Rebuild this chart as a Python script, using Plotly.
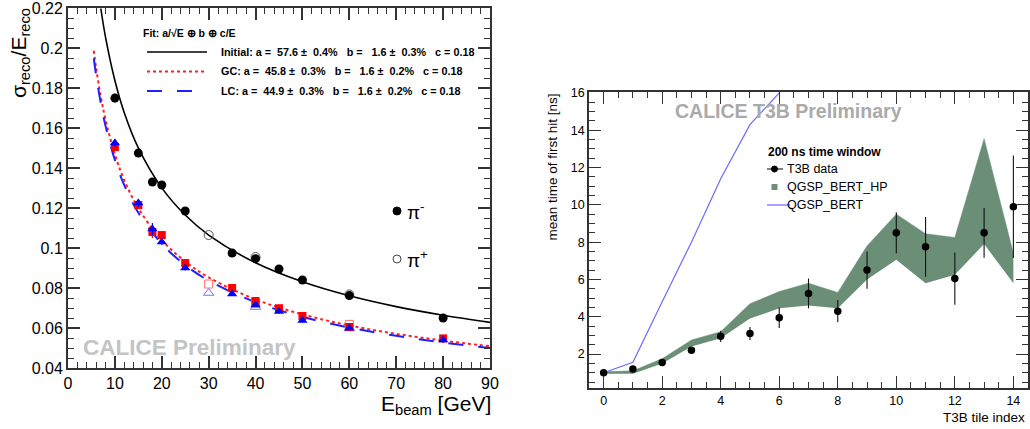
import plotly.graph_objects as go

W, H = 1030, 429
FONT = "Liberation Sans, Arial, sans-serif"

# ---------------- Left panel data ----------------
E_pim = [10, 15, 18, 20, 25, 35, 40, 45, 50, 60, 80]
init_pim = [0.175, 0.1475, 0.133, 0.1315, 0.1185, 0.0975, 0.0947, 0.0895, 0.084, 0.0762, 0.065]
init_pim_err = [0.0022, 0.002, 0.002, 0.0015, 0.0012, 0.001, 0.001, 0.001, 0.001, 0.001, 0.001]
gc_pim = [0.1505, 0.1215, 0.108, 0.1065, 0.0925, 0.080, 0.0735, 0.0699, 0.066, 0.0605, 0.0548]
gc_pim_err = [0.002, 0.002, 0.003, 0.0015, 0.0012, 0.001, 0.001, 0.001, 0.001, 0.001, 0.0015]
lc_pim = [0.1525, 0.1225, 0.1095, 0.103, 0.090, 0.077, 0.0715, 0.0682, 0.0637, 0.060, 0.054]
lc_pim_err = [0.002, 0.002, 0.003, 0.0015, 0.0012, 0.001, 0.001, 0.001, 0.001, 0.001, 0.0015]

E_pip = [30, 40, 60]
init_pip = [0.1065, 0.0955, 0.0768]
gc_pip = [0.082, 0.0725, 0.0618]
lc_pip = [0.0775, 0.0705, 0.0598]

# fit curves
E_fit_init = [7, 8, 10, 12, 15, 20, 25, 30, 40, 50, 60, 70, 80, 90]
fit_init = [0.2198, 0.2055, 0.1838, 0.1677, 0.1501, 0.1301, 0.1165, 0.1065, 0.0926,
            0.0831, 0.0761, 0.0707, 0.0664, 0.0628]
E_fit = [5.5, 6, 7, 8, 10, 12, 15, 20, 25, 30, 40, 50, 60, 70, 80, 90]
fit_gc = [0.1987, 0.1900, 0.1757, 0.1643, 0.1468, 0.1340, 0.1199, 0.1040, 0.0933,
          0.0853, 0.0743, 0.0668, 0.0613, 0.0571, 0.0537, 0.0509]
fit_lc = [0.1949, 0.1864, 0.1724, 0.1611, 0.1440, 0.1315, 0.1176, 0.1021, 0.0915,
          0.0837, 0.0729, 0.0656, 0.0602, 0.0561, 0.0527, 0.0500]

legend_left = [
    "Initial: a =  57.6 ±  0.4%   b =   1.6 ±  0.3%   c = 0.18",
    "GC: a =  45.8 ±  0.3%   b =   1.6 ±  0.2%   c = 0.18",
    "LC: a =  44.9 ±  0.3%   b =   1.6 ±  0.2%   c = 0.18",
]

# ---------------- Right panel data ----------------
tile = list(range(15))
t3b = [1.0, 1.2, 1.55, 2.2, 2.95, 3.1, 3.95, 5.25, 4.3, 6.5, 8.5, 7.75, 6.05, 8.5, 9.9]
t3b_err = [0.08, 0.1, 0.12, 0.12, 0.3, 0.35, 0.55, 0.8, 0.6, 1.0, 1.1, 1.6, 1.4, 1.33, 2.75]
hp_low = [0.95, 0.95, 1.5, 2.4, 2.85, 3.9, 4.45, 4.6, 4.45, 6.0, 7.05, 5.8, 6.25, 7.9, 5.8]
hp_high = [1.05, 1.1, 1.75, 2.75, 3.2, 4.7, 5.35, 5.8, 5.3, 7.8, 9.5, 8.45, 8.25, 13.55, 7.4]
bert_x = [0, 1, 2, 3, 4, 5, 6]
bert = [1.0, 1.56, 4.8, 8.0, 11.4, 14.3, 16.0]

fig = go.Figure()

# ---- left traces ----
fig.add_trace(go.Scatter(x=E_fit_init, y=fit_init, mode="lines", line=dict(color="black", width=1.6, shape="spline"),
                         xaxis="x", yaxis="y", showlegend=False))
fig.add_trace(go.Scatter(x=E_fit, y=fit_gc, mode="lines", line=dict(color="#ff2020", width=2, dash="dot", shape="spline"),
                         xaxis="x", yaxis="y", showlegend=False))
fig.add_trace(go.Scatter(x=E_fit, y=fit_lc, mode="lines", line=dict(color="#2020ff", width=2, dash="longdash", shape="spline"),
                         xaxis="x", yaxis="y", showlegend=False))

fig.add_trace(go.Scatter(x=E_pip, y=init_pip, mode="markers",
                         marker=dict(symbol="circle-open", size=9, color="#555555", line=dict(width=1)),
                         xaxis="x", yaxis="y", showlegend=False))
fig.add_trace(go.Scatter(x=E_pip, y=gc_pip, mode="markers",
                         marker=dict(symbol="square-open", size=8, color="#ff7070", line=dict(width=1)),
                         xaxis="x", yaxis="y", showlegend=False))
fig.add_trace(go.Scatter(x=E_pip, y=lc_pip, mode="markers",
                         marker=dict(symbol="triangle-up-open", size=9, color="#7070ff", line=dict(width=1)),
                         xaxis="x", yaxis="y", showlegend=False))

fig.add_trace(go.Scatter(x=E_pim, y=init_pim, mode="markers",
                         error_y=dict(type="data", array=init_pim_err, width=0, thickness=1.2, color="black"),
                         marker=dict(symbol="circle", size=9, color="black"),
                         xaxis="x", yaxis="y", showlegend=False))
fig.add_trace(go.Scatter(x=E_pim, y=gc_pim, mode="markers",
                         error_y=dict(type="data", array=gc_pim_err, width=0, thickness=1.2, color="#ff0000"),
                         marker=dict(symbol="square", size=8, color="#ff0000"),
                         xaxis="x", yaxis="y", showlegend=False))
fig.add_trace(go.Scatter(x=E_pim, y=lc_pim, mode="markers",
                         error_y=dict(type="data", array=lc_pim_err, width=0, thickness=1.2, color="#0000ff"),
                         marker=dict(symbol="triangle-up", size=9, color="#0000ff"),
                         xaxis="x", yaxis="y", showlegend=False))

# ---- right traces ----
fig.add_trace(go.Scatter(x=tile, y=hp_low, mode="lines", line=dict(width=0, color="#6b8e77"),
                         xaxis="x2", yaxis="y2", showlegend=False))
fig.add_trace(go.Scatter(x=tile, y=hp_high, mode="lines", line=dict(width=0.5, color="#6b8e77"),
                         fill="tonexty", fillcolor="#6b8e77",
                         xaxis="x2", yaxis="y2", showlegend=False))
fig.add_trace(go.Scatter(x=bert_x, y=bert, mode="lines", line=dict(width=1.2, color="#6a6aff"),
                         xaxis="x2", yaxis="y2", showlegend=False))
fig.add_trace(go.Scatter(x=tile, y=t3b, mode="markers",
                         error_y=dict(type="data", array=t3b_err, width=0, thickness=1.1, color="#111111"),
                         marker=dict(symbol="circle", size=7.5, color="black"),
                         xaxis="x2", yaxis="y2", showlegend=False))


def px(x):
    return x / W


def py(y):
    return 1 - y / H


def axis(domain, rng, dtick, tick0, minor_dtick, lw, tw, fs, anchor):
    return dict(domain=domain, range=rng, dtick=dtick, tick0=tick0, ticklen=12, tickwidth=tw,
                linewidth=lw, anchor=anchor, automargin=False, ticklabeloverflow="allow",
                showline=True, linecolor="#333333", mirror="ticks", ticks="inside", tickcolor="#333333",
                showgrid=False, zeroline=False,
                minor=dict(dtick=minor_dtick, ticks="inside", ticklen=6, tickcolor="#333333", tickwidth=1.1),
                tickfont=dict(family=FONT, size=fs, color="black"))


fig.update_layout(
    width=W, height=H, margin=dict(l=0, r=0, t=0, b=0, autoexpand=False),
    paper_bgcolor="white", plot_bgcolor="white",
    font=dict(family=FONT, color="black"),
    xaxis=axis([px(68), px(490)], [0, 90], 10, 0, 2, 2, 1.5, 16, "y"),
    yaxis=axis([py(368), py(8)], [0.04, 0.22005], 0.02, 0.04, 0.005, 2, 1.5, 16, "x"),
    xaxis2=axis([px(589), px(1028)], [-0.5, 14.5], 2, 0, 0.5, 1.5, 1.2, 12.5, "y2"),
    yaxis2=axis([py(388), py(92)], [0.18, 16.05], 2, 0, 0.5, 1.5, 1.2, 12.5, "x2"),
)

shapes = []
ann = []

# ---- left legend ----
ann.append(dict(x=px(141), y=py(33), xref="paper", yref="paper", xanchor="left", yanchor="middle",
                text="<b>Fit: a/√E ⊕ b ⊕ c/E</b>", showarrow=False, font=dict(size=10.5, family=FONT)))
line_styles = [("black", "solid", 1.6), ("#ff2020", "dot", 2), ("#2020ff", "longdash", 2)]
for i, (txt, (c, d, w)) in enumerate(zip(legend_left, line_styles)):
    yy = 52 + 19.5 * i
    shapes.append(dict(type="line", xref="paper", yref="paper", x0=px(147), x1=px(207), y0=py(yy), y1=py(yy),
                       line=dict(color=c, dash=d, width=w)))
    ann.append(dict(x=px(219), y=py(yy), xref="paper", yref="paper", xanchor="left", yanchor="middle",
                    text="<b>" + txt.replace(" ", "\u00a0") + "</b>", showarrow=False,
                    font=dict(size=10.8, family=FONT)))

# pi legend
shapes.append(dict(type="circle", xref="paper", yref="paper", x0=px(393), x1=px(401), y0=py(215), y1=py(207),
                   fillcolor="black", line=dict(color="black", width=1)))
shapes.append(dict(type="circle", xref="paper", yref="paper", x0=px(393), x1=px(401), y0=py(263), y1=py(255),
                   fillcolor="white", line=dict(color="#444444", width=1)))
ann.append(dict(x=px(405), y=py(211), xref="paper", yref="paper", xanchor="left", yanchor="middle",
                text="π<sup>-</sup>", showarrow=False, font=dict(size=19, family=FONT)))
ann.append(dict(x=px(405), y=py(259), xref="paper", yref="paper", xanchor="left", yanchor="middle",
                text="π<sup>+</sup>", showarrow=False, font=dict(size=19, family=FONT)))

ann.append(dict(x=px(81), y=py(347), xref="paper", yref="paper", xanchor="left", yanchor="middle",
                text="<b>CALICE Preliminary</b>", showarrow=False,
                font=dict(size=22.5, family=FONT, color="#c4c4c4")))

# left axis titles
ann.append(dict(x=px(20), y=py(6), xref="paper", yref="paper", xanchor="center", yanchor="top",
                text="σ<sub>reco</sub>/E<sub>reco</sub>", textangle=-90, showarrow=False,
                font=dict(size=21, family=FONT)))
ann.append(dict(x=px(493), y=py(405), xref="paper", yref="paper", xanchor="right", yanchor="middle",
                text="E<sub>beam</sub> [GeV]", showarrow=False, font=dict(size=21, family=FONT)))

# ---- right panel texts ----
ann.append(dict(x=px(673), y=py(111), xref="paper", yref="paper", xanchor="left", yanchor="middle",
                text="<b>CALICE T3B Preliminary</b>", showarrow=False,
                font=dict(size=19.5, family=FONT, color="#aaaaaa")))
ann.append(dict(x=px(766), y=py(152), xref="paper", yref="paper", xanchor="left", yanchor="middle",
                text="<b>200 ns time window</b>", showarrow=False, font=dict(size=12, family=FONT)))
for txt, yy in [("T3B data", 169), ("QGSP_BERT_HP", 187), ("QGSP_BERT", 205)]:
    ann.append(dict(x=px(785), y=py(yy), xref="paper", yref="paper", xanchor="left", yanchor="middle",
                    text=txt, showarrow=False, font=dict(size=12.5, family=FONT)))
shapes.append(dict(type="line", xref="paper", yref="paper", x0=px(767), x1=px(783), y0=py(169), y1=py(169),
                   line=dict(color="black", width=1)))
shapes.append(dict(type="circle", xref="paper", yref="paper", x0=px(771.5), x1=px(777.5), y0=py(172), y1=py(166),
                   fillcolor="black", line=dict(color="black", width=1)))
shapes.append(dict(type="rect", xref="paper", yref="paper", x0=px(771.5), x1=px(777.5), y0=py(190), y1=py(184),
                   fillcolor="#6b8e77", line=dict(width=0)))
shapes.append(dict(type="line", xref="paper", yref="paper", x0=px(767), x1=px(790), y0=py(205), y1=py(205),
                   line=dict(color="#6a6aff", width=1.2)))

ann.append(dict(x=px(552), y=py(92), xref="paper", yref="paper", xanchor="center", yanchor="top",
                text="mean time of first hit [ns]", textangle=-90, showarrow=False,
                font=dict(size=13.5, family=FONT)))
ann.append(dict(x=px(1027), y=py(417), xref="paper", yref="paper", xanchor="right", yanchor="middle",
                text="T3B tile index", showarrow=False, font=dict(size=13.5, family=FONT)))

fig.update_layout(shapes=shapes, annotations=ann)

fig.write_html("out.html", config={"displayModeBar": False},
               post_script="document.body.style.margin='0';document.body.style.overflow='hidden';")
